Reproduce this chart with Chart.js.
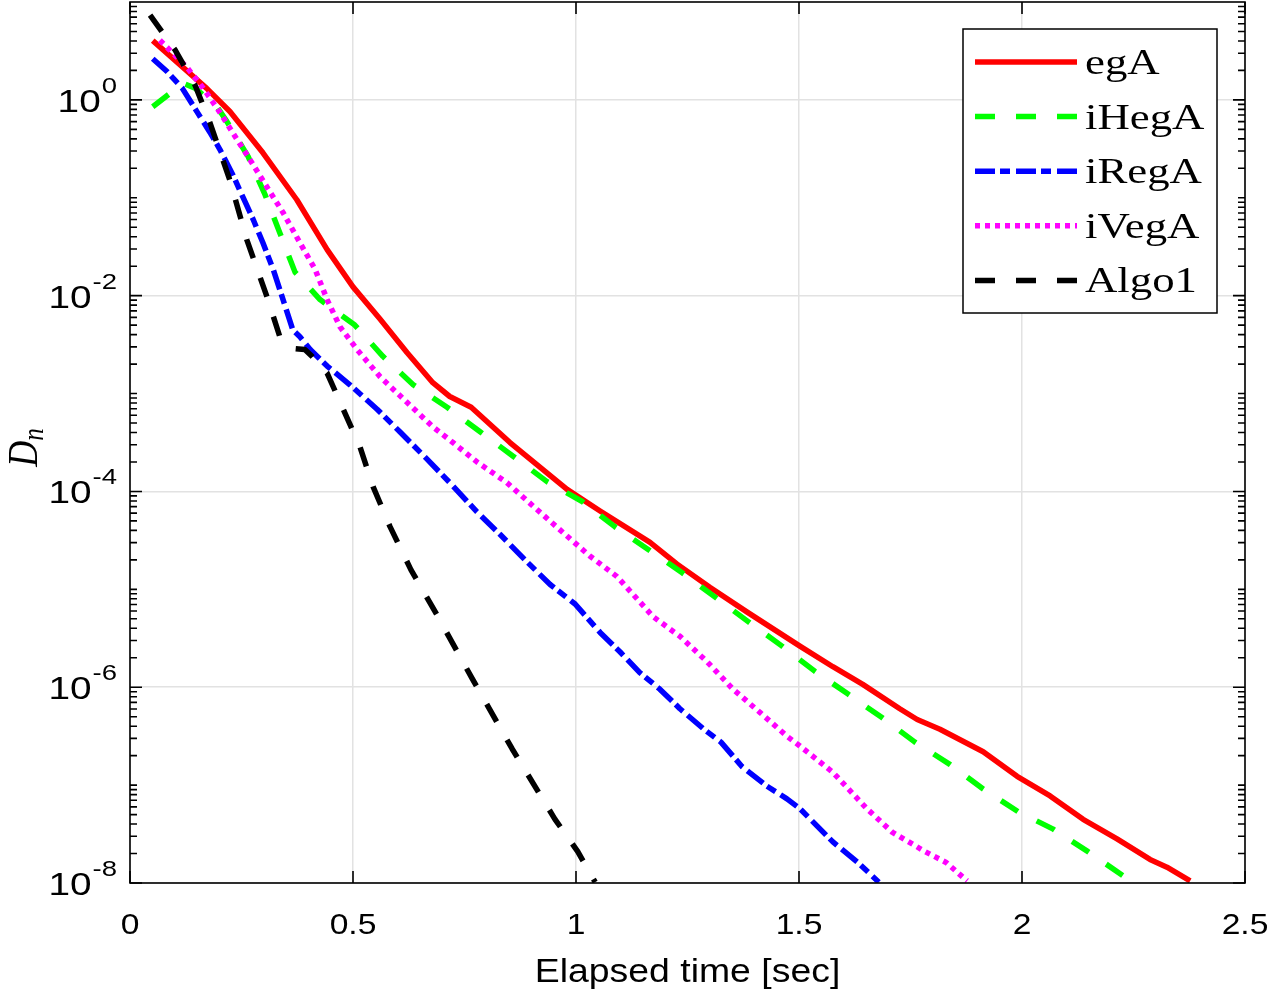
<!DOCTYPE html>
<html>
<head>
<meta charset="utf-8">
<script src="https://cdn.jsdelivr.net/npm/chart.js@4.4.1/dist/chart.umd.min.js"></script>
<style>
  html, body { margin: 0; padding: 0; background: #fff; }
</style>
</head>
<body>
<canvas id="grafico" width="1267" height="991"></canvas>
<script>
// datos (tiempo en s, D_n)
const egA_t = [0.051, 0.172, 0.224, 0.298, 0.374, 0.442, 0.500, 0.561, 0.621, 0.679, 0.717, 0.765, 0.852, 0.980, 1.054, 1.166, 1.226, 1.300, 1.383, 1.502, 1.576, 1.643, 1.726, 1.765, 1.816, 1.913, 1.989, 2.063, 2.137, 2.213, 2.287, 2.325, 2.377];
const egA_d = [4.03, 1.31, 7.6e-1, 2.88e-1, 9.55e-2, 2.95e-2, 1.23e-2, 5.75e-3, 2.63e-3, 1.29e-3, 9.33e-4, 7.24e-4, 3.16e-4, 1.05e-4, 6.31e-5, 3.02e-5, 1.82e-5, 1.05e-5, 5.89e-6, 2.63e-6, 1.62e-6, 1.07e-6, 6.03e-7, 4.68e-7, 3.72e-7, 2.19e-7, 1.23e-7, 7.76e-8, 4.47e-8, 2.82e-8, 1.74e-8, 1.45e-8, 1.05e-8];

const iHegA_t = [0.051, 0.119, 0.146, 0.195, 0.217, 0.265, 0.303, 0.336, 0.370, 0.386, 0.426, 0.504, 0.567, 0.635, 0.711, 0.785, 0.859, 0.935, 1.013, 1.087, 1.161, 1.238, 1.312, 1.386, 1.462, 1.536, 1.610, 1.686, 1.760, 1.839, 1.913, 1.991, 2.070, 2.148, 2.231];
const iHegA_d = [8.51e-1, 1.48, 1.32, 8.51e-1, 6.03e-1, 2.63e-1, 1.07e-1, 4.37e-2, 1.74e-2, 1.45e-2, 9.12e-3, 5.01e-3, 2.40e-3, 1.23e-3, 7.24e-4, 4.07e-4, 2.29e-4, 1.26e-4, 7.94e-5, 4.37e-5, 2.57e-5, 1.48e-5, 8.32e-6, 4.68e-6, 2.63e-6, 1.45e-6, 8.51e-7, 4.90e-7, 2.75e-7, 1.62e-7, 9.12e-8, 5.37e-8, 3.55e-8, 2.09e-8, 1.15e-8];

const iRegA_t = [0.051, 0.083, 0.117, 0.150, 0.179, 0.202, 0.231, 0.253, 0.276, 0.298, 0.321, 0.341, 0.365, 0.381, 0.404, 0.442, 0.493, 0.554, 0.605, 0.666, 0.717, 0.778, 0.830, 0.890, 0.942, 0.998, 1.054, 1.099, 1.143, 1.188, 1.233, 1.287, 1.325, 1.372, 1.428, 1.473, 1.502, 1.576, 1.632, 1.679];
const iRegA_d = [2.63, 1.95, 1.32, 7.59e-1, 4.68e-1, 3.09e-1, 1.70e-1, 1.02e-1, 6.03e-2, 3.47e-2, 1.86e-2, 9.77e-3, 4.47e-3, 3.80e-3, 2.82e-3, 1.91e-3, 1.23e-3, 6.92e-4, 4.07e-4, 2.14e-4, 1.23e-4, 6.17e-5, 3.63e-5, 1.91e-5, 1.12e-5, 7.08e-6, 3.63e-6, 2.29e-6, 1.41e-6, 9.55e-7, 6.03e-7, 3.72e-7, 2.75e-7, 1.55e-7, 9.77e-8, 7.24e-8, 5.75e-8, 2.63e-8, 1.62e-8, 1.02e-8];

const iVegA_t = [0.067, 0.128, 0.164, 0.202, 0.231, 0.269, 0.307, 0.343, 0.381, 0.415, 0.442, 0.471, 0.509, 0.561, 0.621, 0.679, 0.724, 0.778, 0.845, 0.904, 0.971, 1.031, 1.092, 1.173, 1.233, 1.294, 1.352, 1.413, 1.473, 1.502, 1.576, 1.652, 1.709, 1.783, 1.830, 1.877];
const iVegA_d = [4.07, 2.14, 1.32, 7.41e-1, 4.57e-1, 2.45e-1, 1.29e-1, 7.08e-2, 3.47e-2, 1.86e-2, 9.12e-3, 4.79e-3, 2.82e-3, 1.48e-3, 8.13e-4, 4.57e-4, 3.16e-4, 2.00e-4, 1.23e-4, 7.08e-5, 3.80e-5, 2.19e-5, 1.35e-5, 5.25e-6, 3.31e-6, 1.82e-6, 9.55e-7, 5.50e-7, 3.16e-7, 2.51e-7, 1.35e-7, 5.75e-8, 3.31e-8, 2.09e-8, 1.62e-8, 1.05e-8];

const algo1_t = [0.045, 0.101, 0.146, 0.179, 0.224, 0.262, 0.307, 0.336, 0.370, 0.392, 0.408, 0.442, 0.478, 0.516, 0.545, 0.583, 0.630, 0.688, 0.767, 0.857, 0.953, 1.004, 1.043];
const algo1_d = [7.36, 3.24, 1.41, 5.89e-1, 1.51e-1, 3.72e-2, 9.77e-3, 3.80e-3, 2.88e-3, 2.82e-3, 2.40e-3, 1.62e-3, 6.92e-4, 2.82e-4, 1.12e-4, 4.37e-5, 1.58e-5, 5.50e-6, 1.23e-6, 2.34e-7, 4.47e-8, 2.09e-8, 1.02e-8];

const nombres = ['egA', 'iHegA', 'iRegA', 'iVegA', 'Algo1'];

// ejes
const xTicks = [0, 0.5, 1, 1.5, 2, 2.5];
const xTickLabels = ['0', '0.5', '1', '1.5', '2', '2.5'];
const yTickExps = [0, -2, -4, -6, -8];
const yMin = 1e-8;
const yMax = 1e1;

const SANS = '"Liberation Sans", Arial, sans-serif';
const SERIF = '"Liberation Serif", "Times New Roman", serif';

function puntos(ts, ds) {
    return ts.map((t, i) => ({ x: t, y: ds[i] }));
}

// la figura original esta estirada en horizontal, sx imita eso
function texto(ctx, str, x, y, font, align, sx) {
    ctx.save();
    ctx.font = font;
    ctx.translate(x, y);
    ctx.scale(sx, 1);
    ctx.textAlign = align;
    ctx.textBaseline = 'alphabetic';
    ctx.fillStyle = '#000';
    ctx.fillText(str, 0, 0);
    ctx.restore();
}

// marco, ticks hacia dentro, etiquetas y leyenda al estilo matlab
const ejesMatlab = {
    id: 'ejesMatlab',
    afterDatasetsDraw(chart) {
        const ctx = chart.ctx;
        const a = chart.chartArea;
        const xs = chart.scales.x;
        const ys = chart.scales.y;

        ctx.save();
        ctx.strokeStyle = '#000';
        ctx.lineWidth = 1.6;
        ctx.setLineDash([]);
        ctx.beginPath();
        xTicks.forEach(v => {
            const px = xs.getPixelForValue(v);
            ctx.moveTo(px, a.bottom); ctx.lineTo(px, a.bottom - 12);
            ctx.moveTo(px, a.top); ctx.lineTo(px, a.top + 12);
        });
        for (let e = -8; e <= 0; e++) {
            for (let k = 1; k <= 9; k++) {
                const py = ys.getPixelForValue(k * Math.pow(10, e));
                const largo = (k === 1 && yTickExps.includes(e)) ? 12 : 7;
                ctx.moveTo(a.left, py); ctx.lineTo(a.left + largo, py);
                ctx.moveTo(a.right, py); ctx.lineTo(a.right - largo, py);
            }
        }
        ctx.stroke();
        ctx.strokeRect(a.left, a.top, a.right - a.left, a.bottom - a.top);

        // etiquetas eje x
        xTicks.forEach((v, i) => {
            texto(ctx, xTickLabels[i], xs.getPixelForValue(v), a.bottom + 51, '30px ' + SANS, 'center', 1.12);
        });
        texto(ctx, 'Elapsed time [sec]', (a.left + a.right) / 2, a.bottom + 99, '34px ' + SANS, 'center', 1.1);

        // etiquetas eje y: 10 con exponente
        yTickExps.forEach(e => {
            const py = ys.getPixelForValue(Math.pow(10, e));
            const xr = a.left - 13;
            const sx = 1.25;
            ctx.font = '22px ' + SANS;
            const wExp = ctx.measureText(String(e)).width * sx;
            texto(ctx, String(e), xr - wExp, py - 7, '22px ' + SANS, 'left', sx);
            texto(ctx, '10', xr - wExp - 1, py + 12, '31px ' + SANS, 'right', sx);
        });

        // D_n girado
        ctx.save();
        ctx.translate(37, (a.top + a.bottom) / 2 + 5);
        ctx.scale(1.2, 1);
        ctx.rotate(-Math.PI / 2);
        ctx.fillStyle = '#000';
        ctx.textBaseline = 'alphabetic';
        ctx.font = 'italic 36px ' + SERIF;
        const wD = ctx.measureText('D').width;
        ctx.font = 'italic 25px ' + SERIF;
        const wN = ctx.measureText('n').width;
        const x0 = -(wD + wN) / 2;
        ctx.font = 'italic 36px ' + SERIF;
        ctx.fillText('D', x0, 0);
        ctx.font = 'italic 25px ' + SERIF;
        ctx.fillText('n', x0 + wD, 5);
        ctx.restore();

        // leyenda
        const bx = a.right - 282, by = a.top + 27, bw = 254, bh = 284;
        ctx.fillStyle = '#fff';
        ctx.fillRect(bx, by, bw, bh);
        ctx.lineWidth = 1.5;
        ctx.strokeStyle = '#000';
        ctx.strokeRect(bx, by, bw, bh);
        chart.data.datasets.forEach((ds, i) => {
            const ly = by + 33 + i * 54.6;
            ctx.beginPath();
            ctx.strokeStyle = ds.borderColor;
            ctx.lineWidth = ds.borderWidth;
            ctx.lineCap = 'butt';
            ctx.setLineDash(ds.borderDash || []);
            ctx.moveTo(bx + 12, ly);
            ctx.lineTo(bx + 114, ly);
            ctx.stroke();
            ctx.setLineDash([]);
            texto(ctx, ds.label, bx + 122, ly + 12, '35px ' + SERIF, 'left', 1.28);
        });
        ctx.restore();
    }
};

function serie(nombre, ts, ds, color, dash, orden) {
    return {
        label: nombre,
        data: puntos(ts, ds),
        borderColor: color,
        backgroundColor: color,
        borderWidth: 5.5,
        borderDash: dash,
        borderCapStyle: 'butt',
        borderJoinStyle: 'round',
        pointRadius: 0,
        tension: 0,
        fill: false,
        order: orden
    };
}

const ctx = document.getElementById('grafico').getContext('2d');
const chart = new Chart(ctx, {
    type: 'line',
    data: {
        datasets: [
            serie(nombres[0], egA_t, egA_d, '#ff0000', [], 5),
            serie(nombres[1], iHegA_t, iHegA_d, '#00ff00', [20, 21], 4),
            serie(nombres[2], iRegA_t, iRegA_d, '#0000ff', [20, 5, 10, 6], 3),
            serie(nombres[3], iVegA_t, iVegA_d, '#ff00ff', [5, 5], 2),
            serie(nombres[4], algo1_t, algo1_d, '#000000', [20, 21], 1)
        ]
    },
    options: {
        responsive: false,
        animation: false,
        devicePixelRatio: 1,
        layout: { padding: { left: 130, right: 22, top: 2, bottom: 108 } },
        plugins: {
            legend: { display: false },
            tooltip: { enabled: false }
        },
        scales: {
            x: {
                type: 'linear',
                min: 0,
                max: 2.5,
                afterBuildTicks: (scale) => { scale.ticks = xTicks.map(v => ({ value: v })); },
                ticks: { display: false },
                grid: { color: '#e2e2e2', lineWidth: 1.5, drawTicks: false },
                border: { display: false }
            },
            y: {
                type: 'logarithmic',
                min: yMin,
                max: yMax,
                afterBuildTicks: (scale) => { scale.ticks = yTickExps.map(e => ({ value: Math.pow(10, e) })); },
                ticks: { display: false },
                grid: { color: '#e2e2e2', lineWidth: 1.5, drawTicks: false },
                border: { display: false }
            }
        }
    },
    plugins: [ejesMatlab]
});
</script>
</body>
</html>
